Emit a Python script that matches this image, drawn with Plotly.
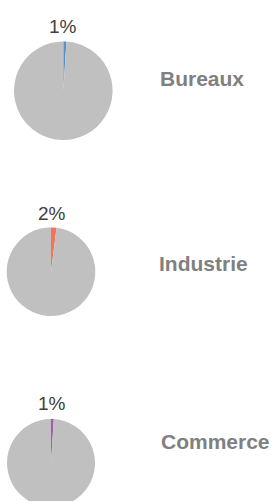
import plotly.graph_objects as go

categories = ["Bureaux", "Industrie", "Commerce"]
shares = [1, 2, 1]          # % share (highlighted slice)
slice_colors = ["#5591c8", "#f4735a", "#a855b5"]
rest_color = "#c0c0c0"

W, H = 272, 510
# pie geometry in window pixels (center x, center y, radius)
geo = [(63.3, 90.7, 49.3), (51.0, 271.7, 44.3), (51.0, 463.0, 44.0)]
pct_pos = [(63.3, 26.7), (51.7, 213.3), (51.7, 403.0)]
lab_pos = [(157.5, 78.0), (157.0, 263.0), (158.5, 441.7)]

fig = go.Figure()
annotations = []
for i, cat in enumerate(categories):
    cx, cy, r = geo[i]
    fig.add_trace(go.Pie(
        values=[shares[i], 100 - shares[i]],
        labels=[cat, "Autres"],
        marker=dict(colors=[slice_colors[i], rest_color], line=dict(width=0)),
        sort=False, direction="clockwise", rotation=0,
        textinfo="none", hoverinfo="skip", showlegend=False,
        domain=dict(x=[(cx - r) / W, (cx + r) / W],
                    y=[1 - (cy + r) / H, 1 - (cy - r) / H]),
    ))
    px, py = pct_pos[i]
    annotations.append(dict(x=px / W, y=1 - py / H, xref="paper", yref="paper",
                            text=f"{shares[i]}%", showarrow=False,
                            xanchor="center", yanchor="middle",
                            font=dict(family="Liberation Sans, Arial", size=19, color="#404040")))
    lx, ly = lab_pos[i]
    annotations.append(dict(x=lx / W, y=1 - ly / H, xref="paper", yref="paper",
                            text=f"<b>{cat}</b>", showarrow=False,
                            xanchor="left", yanchor="middle",
                            font=dict(family="Liberation Sans, Arial", size=21, color="#808080")))

fig.update_layout(width=W, height=H, margin=dict(l=0, r=0, t=0, b=0),
                  paper_bgcolor="white", plot_bgcolor="white",
                  annotations=annotations)
fig.write_html("out.html", config={"displayModeBar": False},
               post_script="document.body.style.margin='0';document.body.style.overflow='hidden';")
